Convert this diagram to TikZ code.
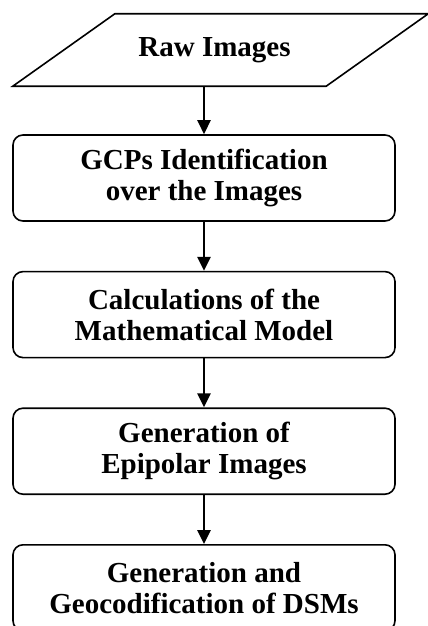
\documentclass[tikz,border=0pt]{standalone}
\usepackage{fontspec}
\setmainfont{Liberation Serif}
\usepackage{tikz}
\usetikzlibrary{arrows.meta, positioning, calc}
\tikzset{
    block/.style={rectangle, draw, line width=1.6pt, rounded corners=10pt, align=center, minimum width=382pt, minimum height=86pt, font=\bfseries\fontsize{29}{31}\selectfont},
    datain/.style={rectangle, align=center, minimum width=313pt, minimum height=72pt, font=\bfseries\fontsize{29}{31}\selectfont},
    arrow/.style={line width=2.6pt, -{Triangle[length=14pt, width=13pt]}}
}
\begin{document}
\begin{tikzpicture}[x=1pt, y=1pt, node distance=49pt]
            \useasboundingbox (0,0) rectangle (428,-626);
            % input data
            \node[datain] (raw) at (214.5,-50) {Raw Images};
            \draw[line width=1.6pt, line join=miter] ($(raw.south west)+(-45,0)$) -- ($(raw.south east)+(-45,0)$) -- ($(raw.north east)+(57,0)$) -- ($(raw.north west)+(57,0)$) -- cycle;

            \node[block] (gcp) at (204,-178) {GCPs Identification\\over the Images};
            \node[block] (model) [below=of gcp] {Calculations of the\\Mathematical Model};
            \node[block] (epipolar) [below=of model] {Generation of\\Epipolar Images};
            \node[block] (dsm) [below=of epipolar] {Generation and\\Geocodification of DSMs};

            \draw[arrow] (raw.south -| gcp.north) -- (gcp);
            \draw[arrow] (gcp) -- (model);
            \draw[arrow] (model) -- (epipolar);
            \draw[arrow] (epipolar) -- (dsm);
        \end{tikzpicture}
\end{document}
